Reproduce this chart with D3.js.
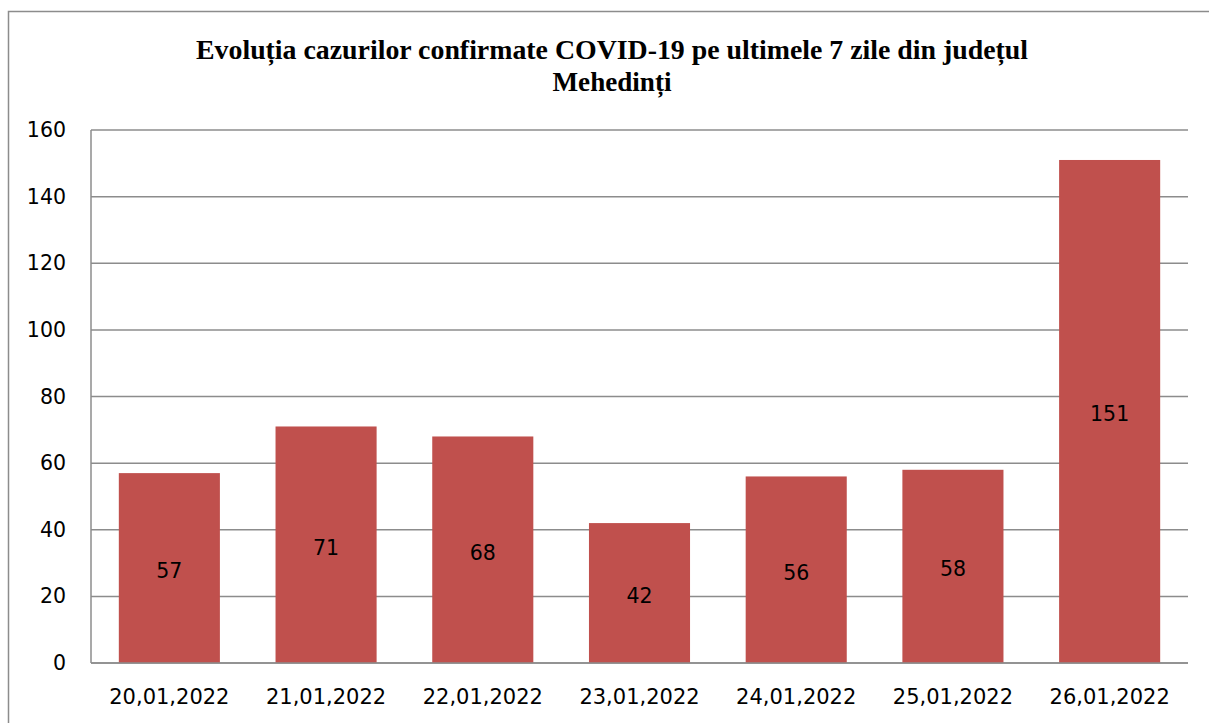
<!DOCTYPE html>
<html>
<head>
<meta charset="utf-8">
<script src="https://cdn.jsdelivr.net/npm/d3@7"></script>
<style>
  html, body { margin: 0; padding: 0; background: #fff; }
  svg { display: block; }
</style>
</head>
<body>
<svg id="chart" width="1209" height="723"></svg>
<script>
var titleLines = ['Evoluția cazurilor confirmate COVID-19 pe ultimele 7 zile din județul', 'Mehedinți'];
var days = ['20,01,2022', '21,01,2022', '22,01,2022', '23,01,2022', '24,01,2022', '25,01,2022', '26,01,2022'];
var cases = [57, 71, 68, 42, 56, 58, 151];
var yTicks = [0, 20, 40, 60, 80, 100, 120, 140, 160];

var svg = d3.select('#chart');
var plot = { left: 91, right: 1188, top: 130, bottom: 663 };
var gridColor = '#8c8c8c';
var barColor = '#c0504d';
var font = '"DejaVu Sans", sans-serif';

// chart area border (runs off the right/bottom of the picture)
svg.append('rect')
    .attr('x', 8.5).attr('y', 11.5)
    .attr('width', 1400).attr('height', 900)
    .attr('fill', 'none')
    .attr('stroke', gridColor)
    .attr('stroke-width', 1.5);

var x = d3.scaleBand()
    .domain(days)
    .range([plot.left, plot.right])
    .paddingInner(0.355)
    .paddingOuter(0.1775);

var y = d3.scaleLinear()
    .domain([0, 160])
    .range([plot.bottom, plot.top]);

// horizontal gridlines
svg.append('g')
    .selectAll('line')
    .data(yTicks)
    .join('line')
    .attr('x1', plot.left).attr('x2', plot.right)
    .attr('y1', function(d) { return y(d); })
    .attr('y2', function(d) { return y(d); })
    .attr('stroke', gridColor)
    .attr('stroke-width', 1.5);

// left axis line
svg.append('line')
    .attr('x1', plot.left).attr('x2', plot.left)
    .attr('y1', plot.top).attr('y2', plot.bottom)
    .attr('stroke', gridColor)
    .attr('stroke-width', 1.5);

// y axis labels
var yAxis = d3.axisLeft(y).tickValues(yTicks).tickSize(0).tickPadding(25);
var gy = svg.append('g')
    .attr('transform', 'translate(' + plot.left + ',0)')
    .call(yAxis);
gy.select('.domain').remove();
gy.selectAll('text')
    .attr('font-family', font)
    .attr('font-size', 20.5)
    .attr('fill', '#000');

// x axis labels
var xAxis = d3.axisBottom(x).tickSize(0).tickPadding(26);
var gx = svg.append('g')
    .attr('transform', 'translate(0,' + plot.bottom + ')')
    .call(xAxis);
gx.select('.domain').remove();
gx.selectAll('text')
    .attr('font-family', font)
    .attr('font-size', 21)
    .attr('fill', '#000');

// bars
svg.append('g')
    .selectAll('rect')
    .data(cases)
    .join('rect')
    .attr('x', function(d, i) { return x(days[i]); })
    .attr('y', function(d) { return y(d); })
    .attr('width', x.bandwidth())
    .attr('height', function(d) { return plot.bottom - y(d); })
    .attr('fill', barColor);

// redraw bottom line over the bars
svg.append('line')
    .attr('x1', plot.left).attr('x2', plot.right)
    .attr('y1', plot.bottom).attr('y2', plot.bottom)
    .attr('stroke', gridColor)
    .attr('stroke-width', 1.5);

// value labels
svg.append('g')
    .selectAll('text')
    .data(cases)
    .join('text')
    .attr('x', function(d, i) { return x(days[i]) + x.bandwidth() / 2; })
    .attr('y', function(d) { return (y(d) + plot.bottom) / 2 + 4; })
    .attr('text-anchor', 'middle')
    .attr('dominant-baseline', 'middle')
    .attr('font-family', font)
    .attr('font-size', 20.5)
    .attr('fill', '#000')
    .text(function(d) { return d; });

// title
var titleWidths = [832, 119];
svg.append('g')
    .selectAll('text')
    .data(titleLines)
    .join('text')
    .attr('x', 612)
    .attr('y', function(d, i) { return 59 + i * 32; })
    .attr('text-anchor', 'middle')
    .attr('font-family', '"Liberation Serif", "Times New Roman", serif')
    .attr('font-weight', 'bold')
    .attr('font-size', 28)
    .attr('textLength', function(d, i) { return titleWidths[i]; })
    .attr('lengthAdjust', 'spacingAndGlyphs')
    .attr('fill', '#000')
    .text(function(d) { return d; });
</script>
</body>
</html>
